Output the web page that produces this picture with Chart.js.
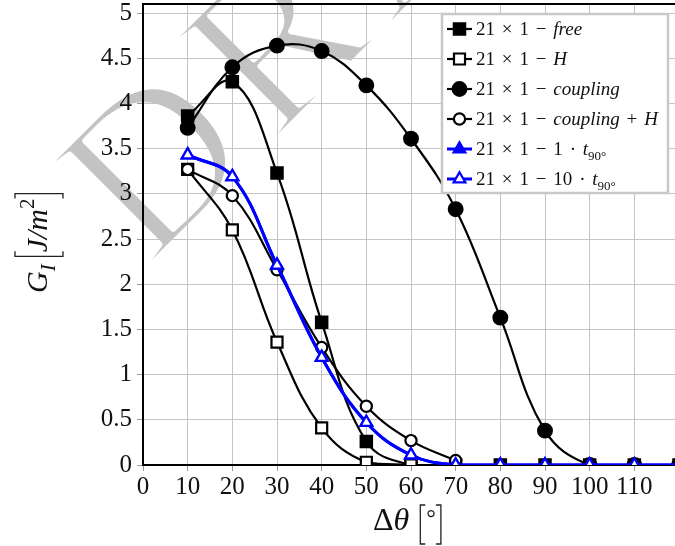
<!DOCTYPE html>
<html>
<head>
<meta charset="utf-8">
<script src="https://cdn.jsdelivr.net/npm/chart.js@4.4.0/dist/chart.umd.min.js"></script>
<style>
  html, body { margin: 0; padding: 0; background: #fff; overflow: hidden; }
  #wrap { position: relative; width: 690px; height: 546px; }
</style>
</head>
<body>
<div id="wrap"><canvas id="chart"></canvas></div>
<script>
// delta theta [deg]
const angles = [10, 20, 30, 40, 50, 60, 70, 80, 90, 100, 110, 120];

// G_I [J/m^2], null = no point
const freeValues      = [3.86, 4.24, 3.23, 1.58, 0.26, 0, 0, 0, 0, 0, 0, 0];
const hValues         = [3.27, 2.60, 1.36, 0.41, 0.03, 0, null, null, null, null, null, null];
const couplingValues  = [3.73, 4.40, 4.64, 4.58, 4.20, 3.61, 2.83, 1.63, 0.38, 0, 0, 0];
const couplingHValues = [3.27, 2.98, 2.16, 1.30, 0.65, 0.27, 0.05, null, null, null, null, null];
const t1Values        = [3.43, 3.19, 2.21, 1.19, 0.47, 0.11, 0, 0, 0, 0, 0, 0];
const t10Values       = [3.43, 3.19, 2.21, 1.19, 0.47, 0.11, 0, 0, 0, 0, 0, 0];

const xTicks = [0, 10, 20, 30, 40, 50, 60, 70, 80, 90, 100, 110];
const yTicks = [0, 0.5, 1, 1.5, 2, 2.5, 3, 3.5, 4, 4.5, 5];

const SERIF = '"Liberation Serif", "DejaVu Serif", serif';

function toPoints(values) {
    return angles.map((a, i) => ({ x: a, y: values[i] })).filter(p => p.y !== null);
}

const seriesStyles = [
    { data: freeValues,      color: '#000', width: 2.2, style: 'rect',     radius: 8.5, fill: '#000', bw: 1.5 },
    { data: hValues,         color: '#000', width: 2.2, style: 'rect',     radius: 7.8, fill: '#fff', bw: 2.2 },
    { data: couplingValues,  color: '#000', width: 2.2, style: 'circle',   radius: 7.2, fill: '#000', bw: 1.5 },
    { data: couplingHValues, color: '#000', width: 2.2, style: 'circle',   radius: 5.6, fill: '#fff', bw: 2.2 },
    { data: t1Values,        color: '#00f', width: 3,   style: 'triangle', radius: 7.5, fill: '#00f', bw: 1.5 },
    { data: t10Values,       color: '#00f', width: 3,   style: 'triangle', radius: 6.8, fill: '#fff', bw: 2.2 }
];

// "21 × 1 − " with math spacing
function prefix() {
    return [['21', 'n'], ['g'], ['×', 'n'], ['g'], ['1', 'n'], ['g'], ['−', 'n'], ['g']];
}

const legendLabels = [
    prefix().concat([['free', 'i']]),
    prefix().concat([['H', 'i']]),
    prefix().concat([['coupling', 'i']]),
    prefix().concat([['coupling', 'i'], ['g'], ['+', 'n'], ['g'], ['H', 'i']]),
    prefix().concat([['1', 'n'], ['g'], ['·', 'n'], ['g'], ['t', 'i'], ['90°', 'sub']]),
    prefix().concat([['10', 'n'], ['g'], ['·', 'n'], ['g'], ['t', 'i'], ['90°', 'sub']])
];

// draw a run of text pieces with different fonts, returns end x
function drawRich(ctx, parts, x, y, size) {
    parts.forEach(([text, kind]) => {
        if (kind === undefined) { x += size * 0.36; return; }
        let font = size + 'px ' + SERIF;
        let dy = 0;
        if (kind === 'i') font = 'italic ' + size + 'px ' + SERIF;
        if (kind === 'sub') { font = Math.round(size * 0.7) + 'px ' + SERIF; dy = size * 0.25; }
        if (kind === 'isub') { font = 'italic ' + Math.round(size * 0.7) + 'px ' + SERIF; dy = size * 0.22; }
        if (kind === 'sup') { font = Math.round(size * 0.7) + 'px ' + SERIF; dy = -size * 0.42; }
        ctx.font = font;
        ctx.fillText(text, x, y + dy);
        x += ctx.measureText(text).width;
    });
    return x;
}

// thin TeX-like bracket, dir 1 = '[' , -1 = ']'
function drawBracket(ctx, x, top, bottom, dir) {
    ctx.beginPath();
    ctx.moveTo(x + dir * 5, top);
    ctx.lineTo(x, top);
    ctx.lineTo(x, bottom);
    ctx.lineTo(x + dir * 5, bottom);
    ctx.stroke();
}

function drawMarker(ctx, s, x, y) {
    ctx.save();
    ctx.fillStyle = s.fill;
    ctx.strokeStyle = s.color;
    ctx.lineWidth = s.bw;
    Chart.helpers.drawPoint(ctx, { pointStyle: s.style, radius: s.radius, borderWidth: s.bw, rotation: 0 }, x, y);
    ctx.restore();
}

const decorPlugin = {
    id: 'decor',
    beforeDraw(chart) {
        // watermark, thinned with a white outline
        const ctx = chart.ctx;
        ctx.save();
        ctx.translate(148, 268);
        ctx.rotate(-Math.PI / 4);
        ctx.font = '220px ' + SERIF;
        ctx.letterSpacing = '18px';
        ctx.fillStyle = '#c3c3c3';
        ctx.fillText('DRAFT', 0, 0);
        ctx.strokeStyle = '#fff';
        ctx.lineWidth = 6;
        ctx.lineJoin = 'round';
        ctx.strokeText('DRAFT', 0, 0);
        ctx.restore();
    },
    afterDraw(chart) {
        const ctx = chart.ctx;
        const area = chart.chartArea;

        // top frame line
        ctx.save();
        ctx.fillStyle = '#000';
        ctx.fillRect(area.left - 1, area.top - 1, area.right - area.left + 2, 2);
        ctx.restore();

        // y axis title: G_I [J/m^2]
        ctx.save();
        ctx.fillStyle = '#111';
        ctx.strokeStyle = '#222';
        ctx.lineWidth = 1.3;
        ctx.translate(47, 227);
        ctx.rotate(-Math.PI / 2);
        let x = -66;
        x = drawRich(ctx, [['G', 'i']], x, 0, 30);
        x = drawRich(ctx, [['I', 'isub']], x, 1, 30);
        x += 8;
        drawBracket(ctx, x, -32, 16, 1);
        x += 4;
        x = drawRich(ctx, [['J/m', 'i']], x, 0, 30);
        x = drawRich(ctx, [['2', 'sup']], x, 0, 30);
        x += 5;
        drawBracket(ctx, x, -32, 16, -1);
        ctx.restore();

        // x axis title: Δθ [°]
        ctx.save();
        ctx.fillStyle = '#111';
        ctx.strokeStyle = '#222';
        ctx.lineWidth = 1.3;
        x = 373;
        const base = 530;
        x = drawRich(ctx, [['Δ', 'n'], ['θ', 'i']], x, base, 32);
        x += 11;
        drawBracket(ctx, x, base - 25, base + 14, 1);
        x += 6;
        ctx.font = '24px ' + SERIF;
        ctx.fillText('°', x, base - 4);
        x += ctx.measureText('°').width + 5;
        drawBracket(ctx, x, base - 25, base + 14, -1);
        ctx.restore();

        // legend
        const lx = 442, ly = 14, lw = 226, lh = 179;
        ctx.save();
        ctx.fillStyle = '#fff';
        ctx.fillRect(lx, ly, lw, lh);
        ctx.strokeStyle = '#c8c8c8';
        ctx.lineWidth = 2.5;
        ctx.strokeRect(lx, ly, lw, lh);
        legendLabels.forEach((parts, i) => {
            const s = seriesStyles[i];
            const cy = 29 + i * 30;
            ctx.strokeStyle = s.color;
            ctx.lineWidth = s.width;
            ctx.beginPath();
            ctx.moveTo(447, cy);
            ctx.lineTo(472, cy);
            ctx.stroke();
            drawMarker(ctx, s, 459.5, cy);
            ctx.fillStyle = '#111';
            ctx.textBaseline = 'alphabetic';
            drawRich(ctx, parts, 476, cy + 6, 19);
        });
        ctx.restore();
    }
};

const datasets = seriesStyles.map((s, i) => ({
    data: toPoints(s.data),
    borderColor: s.color,
    borderWidth: s.width,
    backgroundColor: s.fill,
    pointStyle: s.style,
    pointRadius: s.radius,
    pointHoverRadius: s.radius,
    pointBackgroundColor: s.fill,
    pointBorderColor: s.color,
    pointBorderWidth: s.bw,
    tension: 0.4,
    fill: false,
    order: seriesStyles.length - i
}));

new Chart(document.getElementById('chart'), {
    type: 'line',
    data: { datasets: datasets },
    options: {
        responsive: true,
        maintainAspectRatio: false,
        animation: false,
        devicePixelRatio: 1,
        layout: { autoPadding: false, padding: { top: 4, right: 11, left: 0, bottom: 0 } },
        plugins: {
            legend: { display: false },
            tooltip: { enabled: false }
        },
        scales: {
            x: {
                type: 'linear',
                min: 0,
                max: 120,
                afterBuildTicks: scale => { scale.ticks = xTicks.map(v => ({ value: v })); },
                afterFit: scale => { scale.height = 81; },
                grid: { color: '#c4c4c4', lineWidth: 1, tickLength: 6, tickColor: '#999' },
                border: { color: '#000', width: 2 },
                ticks: {
                    font: { family: SERIF, size: 25 },
                    color: '#111',
                    padding: 1,
                    maxRotation: 0,
                    autoSkip: false,
                    callback: v => String(v)
                }
            },
            y: {
                min: 0,
                max: 5.1,
                afterBuildTicks: scale => { scale.ticks = yTicks.map(v => ({ value: v })); },
                afterFit: scale => {
                    scale.width = 143;
                    scale.paddingTop = 0;
                    scale.paddingBottom = 0;
                },
                grid: { color: '#c4c4c4', lineWidth: 1, tickLength: 6, tickColor: '#999' },
                border: { color: '#000', width: 2 },
                ticks: {
                    font: { family: SERIF, size: 25 },
                    color: '#111',
                    padding: 5,
                    callback: v => String(v)
                }
            }
        }
    },
    plugins: [decorPlugin]
});
</script>
</body>
</html>
